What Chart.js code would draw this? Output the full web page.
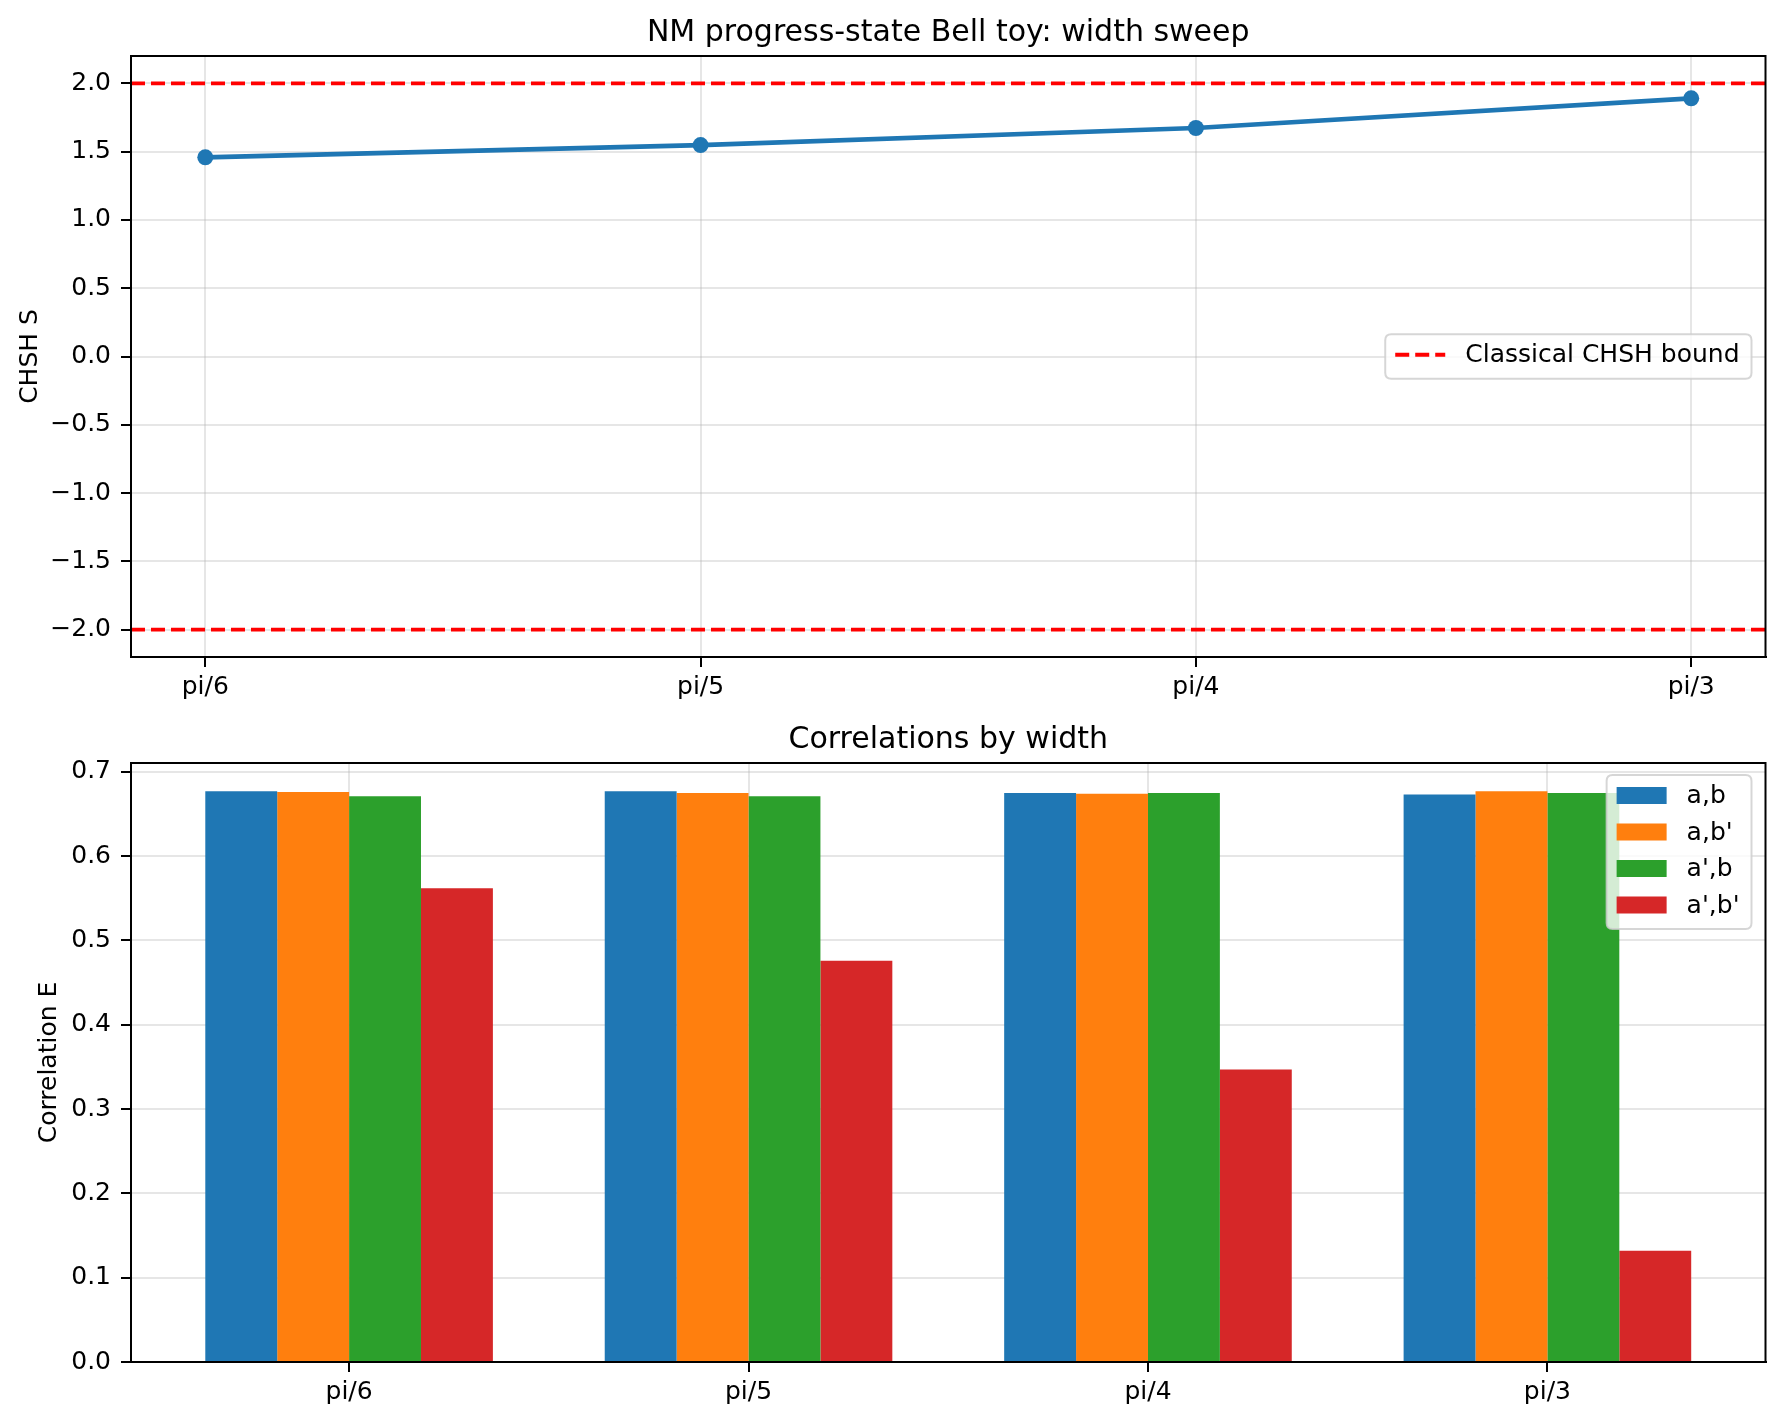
<!DOCTYPE html>
<html><head><meta charset="utf-8">
<script src="https://cdn.jsdelivr.net/npm/chart.js@4"></script>
<style>
html,body{margin:0;padding:0;background:#fff;width:1782px;height:1422px;overflow:hidden;}
canvas{display:block;position:absolute;left:0;}
</style>
</head><body>
<canvas id="c1" width="1782" height="711" style="top:0;width:1782px;height:711px"></canvas>
<canvas id="c2" width="1782" height="711" style="top:711px;width:1782px;height:711px"></canvas>
<script>
// ---- data ----
const widths = ['pi/6', 'pi/5', 'pi/4', 'pi/3'];
const chshS = [1.458, 1.548, 1.673, 1.890];
const classicalBound = [2, -2];
const boundLabel = 'Classical CHSH bound';
const seriesLabels = ['a,b', "a,b'", "a',b", "a',b'"];
const E_ab   = [0.677, 0.677, 0.675, 0.673];
const E_abp  = [0.676, 0.675, 0.674, 0.677];
const E_apb  = [0.671, 0.671, 0.675, 0.675];
const E_apbp = [0.562, 0.476, 0.347, 0.132];
const seriesValues = [E_ab, E_abp, E_apb, E_apbp];
const seriesColors = ['#1f77b4', '#ff7f0e', '#2ca02c', '#d62728'];

// ---- style ----
const FONT = 'DejaVu Sans';
const GRID = 'rgba(176,176,176,0.32)';
const DASH = [14, 6];
const tickFont = {family: FONT, size: 25};
const fmt1 = v => (v < 0 ? '\u2212' : '') + Math.abs(v).toFixed(1);
const catLabel = v => (Number.isInteger(v) && widths[v] !== undefined) ? widths[v] : '';

const framePlugin = {
  id: 'frame',
  afterDraw(chart) {
    const {ctx, chartArea: ca} = chart;
    ctx.save();
    ctx.strokeStyle = '#000';
    ctx.lineWidth = 2;
    ctx.strokeRect(ca.left, ca.top, ca.right - ca.left, ca.bottom - ca.top);
    ctx.restore();
  }
};

const legendPlugin = {
  id: 'mplLegend',
  afterDraw(chart, args, opts) {
    if (!opts || !opts.items) return;
    const {ctx, chartArea: ca} = chart;
    ctx.save();
    ctx.font = '25px "' + FONT + '"';
    const items = opts.items;
    let tw = 0;
    items.forEach(it => { tw = Math.max(tw, ctx.measureText(it.label).width); });
    const rowH = 36.5;
    const boxW = 10 + 50 + 20 + tw + 12;
    const boxH = items.length * rowH + 8;
    const right = ca.right - 14;
    const left = right - boxW;
    let top;
    if (opts.loc === 'center right') top = (ca.top + ca.bottom) / 2 - boxH / 2;
    else top = ca.top + 12;
    const r = 6;
    ctx.beginPath();
    ctx.moveTo(left + r, top);
    ctx.lineTo(left + boxW - r, top);
    ctx.quadraticCurveTo(left + boxW, top, left + boxW, top + r);
    ctx.lineTo(left + boxW, top + boxH - r);
    ctx.quadraticCurveTo(left + boxW, top + boxH, left + boxW - r, top + boxH);
    ctx.lineTo(left + r, top + boxH);
    ctx.quadraticCurveTo(left, top + boxH, left, top + boxH - r);
    ctx.lineTo(left, top + r);
    ctx.quadraticCurveTo(left, top, left + r, top);
    ctx.closePath();
    ctx.fillStyle = 'rgba(255,255,255,0.8)';
    ctx.fill();
    ctx.strokeStyle = 'rgba(204,204,204,0.8)';
    ctx.lineWidth = 2;
    ctx.stroke();
    items.forEach((it, i) => {
      const cy = top + 20.5 + i * rowH;
      const hx = left + 10;
      if (it.kind === 'line') {
        ctx.save();
        ctx.strokeStyle = it.color;
        ctx.lineWidth = 3.8;
        ctx.setLineDash(it.dash || []);
        ctx.beginPath();
        ctx.moveTo(hx, cy);
        ctx.lineTo(hx + 50, cy);
        ctx.stroke();
        ctx.restore();
      } else {
        ctx.fillStyle = it.color;
        ctx.fillRect(hx, cy - 8.5, 50, 17);
      }
      ctx.fillStyle = '#000';
      ctx.textBaseline = 'middle';
      ctx.textAlign = 'left';
      ctx.fillText(it.label, hx + 70, cy + 1);
    });
    ctx.restore();
  }
};

function baseScaleX(min, max, h) {
  return {
    type: 'linear', min: min, max: max, offset: false,
    afterFit(s) { s.height = h; },
    ticks: {stepSize: 1, includeBounds: false, autoSkip: false, maxRotation: 0, minRotation: 0,
            padding: 5, color: '#000', font: tickFont, callback: catLabel},
    grid: {offset: false, color: GRID, lineWidth: 2, tickColor: '#000', tickLength: 10, tickWidth: 2},
    border: {color: '#000', width: 2}
  };
}

// ---- top chart ----
const xMin1 = -0.15, xMax1 = 3.15;
const datasets1 = [{
  label: 'S',
  data: widths.map((w, i) => ({x: i, y: chshS[i]})),
  borderColor: '#1f77b4', backgroundColor: '#1f77b4',
  borderWidth: 4.7, pointRadius: 8, pointHoverRadius: 8, pointBorderWidth: 0,
  pointBackgroundColor: '#1f77b4', tension: 0
}].concat(classicalBound.map(b => ({
  label: boundLabel,
  data: [{x: xMin1, y: b}, {x: xMax1, y: b}],
  borderColor: '#ff0000', borderWidth: 3.8, borderDash: DASH,
  pointRadius: 0, tension: 0
})));

new Chart(document.getElementById('c1'), {
  type: 'line',
  data: {datasets: datasets1},
  plugins: [framePlugin, legendPlugin],
  options: {
    responsive: false, animation: false, devicePixelRatio: 1,
    layout: {padding: {left: 0, right: 16.5, top: 0, bottom: 0}},
    plugins: {
      legend: {display: false}, tooltip: {enabled: false},
      title: {display: true, fullSize: false, text: 'NM progress-state Bell toy: width sweep', color: '#000',
              font: {family: FONT, size: 30, weight: 'normal', lineHeight: 1.2},
              padding: {top: 15, bottom: 5}},
      mplLegend: {loc: 'center right', items: [{kind: 'line', label: boundLabel, color: '#ff0000', dash: DASH}]}
    },
    scales: {
      x: baseScaleX(xMin1, xMax1, 54),
      y: {
        min: -2.2, max: 2.2,
        afterFit(s) { s.width = 131; },
        ticks: {stepSize: 0.5, includeBounds: false, padding: 10, color: '#000', font: tickFont, callback: fmt1},
        grid: {color: GRID, lineWidth: 2, tickColor: '#000', tickLength: 10, tickWidth: 2},
        border: {color: '#000', width: 2},
        title: {display: true, text: 'CHSH S', color: '#000', font: {family: FONT, size: 25, lineHeight: 1.2}, padding: {top: 15, bottom: 0}}
      }
    }
  }
});

// ---- bottom chart ----
const datasets2 = seriesLabels.map((lab, k) => ({
  label: lab,
  data: widths.map((w, i) => ({x: i, y: seriesValues[k][i]})),
  backgroundColor: seriesColors[k], borderWidth: 0,
  categoryPercentage: 0.72, barPercentage: 1.0
}));

const xs2 = baseScaleX(-0.546, 3.546, 60);
xs2.z = 1;
new Chart(document.getElementById('c2'), {
  type: 'bar',
  data: {datasets: datasets2},
  plugins: [framePlugin, legendPlugin],
  options: {
    responsive: false, animation: false, devicePixelRatio: 1,
    layout: {padding: {left: 0, right: 16.5, top: 0, bottom: 0}},
    plugins: {
      legend: {display: false}, tooltip: {enabled: false},
      title: {display: true, fullSize: false, text: 'Correlations by width', color: '#000',
              font: {family: FONT, size: 30, weight: 'normal', lineHeight: 1.2},
              padding: {top: 11, bottom: 5}},
      mplLegend: {loc: 'upper right', items: seriesLabels.map((l, k) => ({kind: 'patch', label: l, color: seriesColors[k]}))}
    },
    scales: {
      x: xs2,
      y: {
        z: 1,
        min: 0, max: 0.7105,
        afterFit(s) { s.width = 131; },
        ticks: {stepSize: 0.1, includeBounds: false, padding: 10, color: '#000', font: tickFont, callback: fmt1},
        grid: {color: GRID, lineWidth: 2, tickColor: '#000', tickLength: 10, tickWidth: 2},
        border: {color: '#000', width: 2},
        title: {display: true, text: 'Correlation E', color: '#000', font: {family: FONT, size: 25, lineHeight: 1.2}, padding: {top: 34, bottom: 0}}
      }
    }
  }
});
</script>
</body></html>
